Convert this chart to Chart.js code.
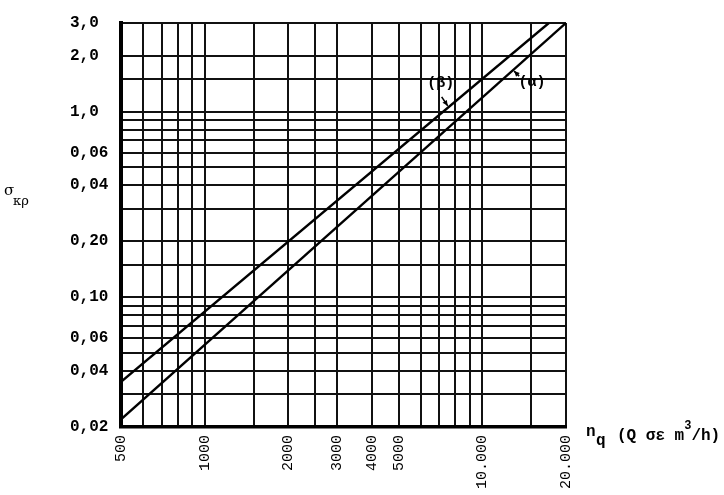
<!DOCTYPE html>
<html><head><meta charset="utf-8">
<script src="https://cdn.jsdelivr.net/npm/chart.js@4/dist/chart.umd.min.js"></script>
<style>html,body{margin:0;padding:0;background:#fff}</style>
</head><body>
<canvas id="c" width="724" height="495"></canvas>
<script>
// ---- data ----
const xGridValues = [500,600,700,800,900,1000,1500,2000,2500,3000,4000,5000,6000,7000,8000,9000,10000,15000,20000];
const xLabelValues = [500,1000,2000,3000,4000,5000,10000,20000];
const xLabelTexts  = ['500','1000','2000','3000','4000','5000','10.000','20.000'];
const yGridValues = [0.02,0.03,0.04,0.05,0.06,0.07,0.08,0.09,0.1,0.15,0.2,0.3,0.4,0.5,0.6,0.7,0.8,0.9,1.0,1.5,2.0,3.0];
const yLabelValues = [0.02,0.04,0.06,0.1,0.2,0.4,0.6,1.0,2.0,3.0];
const yLabelTexts  = ['0,02','0,04','0,06','0,10','0,20','0,04','0,06','1,0','2,0','3,0'];
const alphaX = [500, 20000];
const alphaY = [0.022, 3.0];
const betaX  = [500, 17350];
const betaY  = [0.035, 3.0];
const alphaTagAt = 12900;  // x-value where the (α) arrow touches its line
const betaTagAt  = 7500;   // x-value where the (β) arrow touches its line

const FONT = "'Liberation Mono', 'DejaVu Sans Mono', monospace";

function findLabel(v, vals, texts){
  for (let i=0;i<vals.length;i++){ if (Math.abs(v-vals[i])/vals[i] < 1e-6) return texts[i]; }
  return '';
}
function interpLog(xs, ys, x){
  const lx0=Math.log10(xs[0]), lx1=Math.log10(xs[xs.length-1]);
  const ly0=Math.log10(ys[0]), ly1=Math.log10(ys[ys.length-1]);
  const t=(Math.log10(x)-lx0)/(lx1-lx0);
  return Math.pow(10, ly0 + t*(ly1-ly0));
}

function arrow(ctx, x0,y0,x1,y1){
  ctx.beginPath(); ctx.moveTo(x0,y0); ctx.lineTo(x1,y1); ctx.stroke();
  const a=Math.atan2(y1-y0,x1-x0), L=6;
  ctx.beginPath();
  ctx.moveTo(x1,y1);
  ctx.lineTo(x1-L*Math.cos(a-0.45), y1-L*Math.sin(a-0.45));
  ctx.lineTo(x1-L*Math.cos(a+0.45), y1-L*Math.sin(a+0.45));
  ctx.closePath(); ctx.fill();
}

const decor = {
  id:'decor',
  afterDraw(chart){
    const ctx=chart.ctx, xs=chart.scales.x, ys=chart.scales.y;
    ctx.save();
    ctx.fillStyle='#000'; ctx.strokeStyle='#000'; ctx.lineWidth=1.6;
    // y title σκρ
    ctx.textBaseline='alphabetic'; ctx.textAlign='left';
    ctx.font="15px 'DejaVu Serif', serif";
    ctx.fillText('σ', 4, 195);
    ctx.font="13px 'DejaVu Serif', serif";
    ctx.fillText('κρ', 13, 205);
    // x title
    ctx.font="bold 16px "+FONT;
    ctx.fillText('n', 586, 436);
    ctx.fillText('q', 596, 445);
    const x0 = 617;
    ctx.fillText('(Q σε m', x0, 440);
    let w=ctx.measureText('(Q σε m').width;
    ctx.font="bold 12px "+FONT;
    ctx.fillText('3', x0+w, 429);
    let w2=ctx.measureText('3').width;
    ctx.font="bold 16px "+FONT;
    ctx.fillText('/h)', x0+w+w2, 440);
    // annotations
    const bx=xs.getPixelForValue(betaTagAt), by=ys.getPixelForValue(interpLog(betaX,betaY,betaTagAt));
    const ax=xs.getPixelForValue(alphaTagAt), ay=ys.getPixelForValue(interpLog(alphaX,alphaY,alphaTagAt));
    ctx.font="bold 15px "+FONT;
    ctx.textAlign='center'; ctx.textBaseline='middle';
    ctx.fillText('(β)', bx-7, by-25);
    arrow(ctx, bx-6, by-11, bx, by-2);
    ctx.fillText('(α)', ax+19, ay+12);
    arrow(ctx, ax+6, ay+6, ax+1, ay+1);
    ctx.restore();
  }
};

new Chart(document.getElementById('c'), {
  type:'line',
  data:{
    datasets:[
      {label:'(α)', data: alphaX.map((x,i)=>({x, y:alphaY[i]})), borderColor:'#000', borderWidth:2.4, pointRadius:0, tension:0},
      {label:'(β)', data: betaX.map((x,i)=>({x, y:betaY[i]})), borderColor:'#000', borderWidth:2.4, pointRadius:0, tension:0}
    ]
  },
  options:{
    responsive:false, animation:false, devicePixelRatio:1,
    layout:{padding:{left:70, top:23, right:158, bottom:0}},
    plugins:{legend:{display:false}, tooltip:{enabled:false}},
    scales:{
      x:{
        type:'logarithmic', min:500, max:20000,
        afterBuildTicks(s){ s.ticks = xGridValues.map(v=>({value:v})); },
        afterFit(s){ s.height = 68; },
        grid:{color:'#111', lineWidth:2, drawTicks:false},
        border:{color:'#000', width:3.5},
        ticks:{autoSkip:false, minRotation:90, maxRotation:90, padding:8, color:'#000',
          font:{family:FONT, size:15},
          callback:(v)=>findLabel(v, xLabelValues, xLabelTexts)}
      },
      y:{
        type:'logarithmic', min:0.02, max:3.0,
        afterBuildTicks(s){ s.ticks = yGridValues.map(v=>({value:v})); },
        afterFit(s){ s.width = 51; },
        grid:{color:'#111', lineWidth:2, drawTicks:false},
        border:{color:'#000', width:4},
        ticks:{autoSkip:false, padding:12, crossAlign:'far', color:'#000',
          font:{family:FONT, size:16, weight:'bold'},
          callback:(v)=>findLabel(v, yLabelValues, yLabelTexts)}
      }
    }
  },
  plugins:[decor]
});
</script>
</body></html>
